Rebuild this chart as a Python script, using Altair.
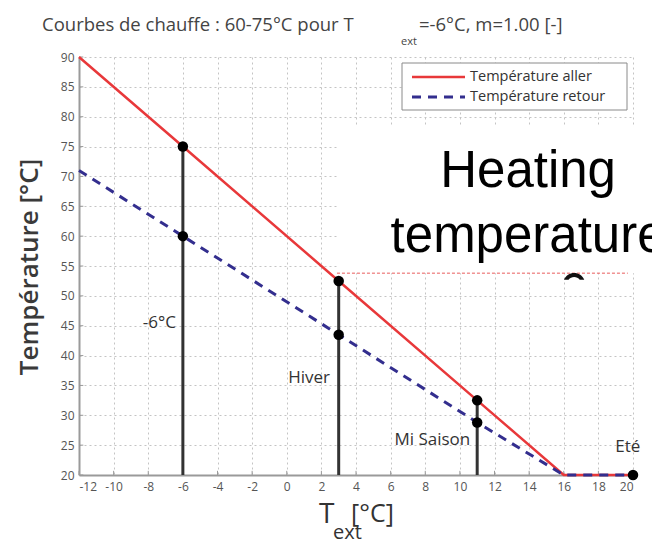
import altair as alt
import pandas as pd

# Heating curve: supply ("aller") and return ("retour") water temperature vs outdoor temperature
t_ext = [-12, -6, 3, 11, 16, 20]
t_aller = [90, 75, 52.5, 32.5, 20, 20]
t_retour = [71, 60, 43.5, 28.8, 20, 20]

# Operating points marked on the curves
season_names = ["-6°C", "Hiver", "Mi Saison", "Eté"]
season_t = [-6, 3, 11, 20]
season_aller = [75, 52.5, 32.5, 20]
season_retour = [60, 43.5, 28.8, 20]
label_x = [-6.4, 2.5, 10.6, 19.7]
label_y = [45.5, 36.2, 25.8, 24.7]
label_align = ["right", "right", "right", "center"]

series_names = ["Température aller", "Température retour"]
x_ticks = list(range(-12, 21, 2))
y_ticks = list(range(20, 91, 5))

# Overlay caption box (data coordinates)
box_x = [2.9, 21.5]
box_y = [53.8, 78.6]
caption_lines = ["Heating", "temperature"]
caption_x = 13.94
caption_y = [68.2, 57.3]

RED = "#e8383a"
NAVY = "#332e8e"
DARK = "#333333"
FONT = "Open Sans"

W, H = 554, 418

curves = pd.DataFrame({"t": t_ext, "aller": t_aller, "retour": t_retour})
seasons = pd.DataFrame({"t": season_t, "aller": season_aller, "retour": season_retour,
                        "name": season_names, "lx": label_x, "ly": label_y,
                        "align": label_align})
pts = pd.concat([
    seasons[["t", "aller"]].rename(columns={"aller": "v"}),
    seasons[["t", "retour"]].rename(columns={"retour": "v"}).iloc[:3],
])
rules = seasons.iloc[:3].assign(lo=20)

xs = alt.Scale(domain=[-12, 20], nice=False, zero=False)
ys = alt.Scale(domain=[20, 90], nice=False, zero=False)

x_axis = alt.Axis(values=x_ticks, title=None, grid=True, gridDash=[2, 3], gridColor="#c4c4c4",
                  domainColor="#9a9a9a", domainWidth=2, ticks=False, labelPadding=6,
                  labelFontSize=12, labelColor="#555555", labelFont=FONT,
                  labelExpr="'' + datum.value")
y_axis = alt.Axis(values=y_ticks, title=None, grid=True, gridDash=[2, 3], gridColor="#c4c4c4",
                  domainColor="#9a9a9a", domainWidth=2, ticks=False, labelPadding=5,
                  labelFontSize=12, labelColor="#555555", labelFont=FONT)


def X(field):
    return alt.X(field, type="quantitative", scale=xs, axis=x_axis)


def Y(field):
    return alt.Y(field, type="quantitative", scale=ys, axis=y_axis)


base = alt.Chart(curves)

# Short inward tick marks along both axes
x_tick_df = pd.DataFrame({"t": x_ticks, "lo": [20] * len(x_ticks), "hi": [20.7] * len(x_ticks)})
y_tick_df = pd.DataFrame({"v": y_ticks, "lo": [-12] * len(y_ticks), "hi": [-11.75] * len(y_ticks)})
x_tick_marks = alt.Chart(x_tick_df).mark_rule(color="#9a9a9a", strokeWidth=1).encode(
    x=X("t"), y=Y("lo"), y2="hi:Q")
y_tick_marks = alt.Chart(y_tick_df).mark_rule(color="#9a9a9a", strokeWidth=1).encode(
    y=Y("v"), x=X("lo"), x2="hi:Q")

aller_line = base.mark_line(color=RED, strokeWidth=2.5).encode(x=X("t"), y=Y("aller"))
retour_line = base.mark_line(color=NAVY, strokeWidth=3, strokeDash=[9, 7]).encode(x=X("t"), y=Y("retour"))

season_rules = alt.Chart(rules).mark_rule(color=DARK, strokeWidth=3).encode(
    x=X("t"), y=Y("lo"), y2="aller:Q",
)

season_points = alt.Chart(pts).mark_circle(color="black", opacity=1, size=110, clip=False).encode(
    x=X("t"), y=Y("v"),
)


def season_label(align):
    return alt.Chart(seasons[seasons["align"] == align]).mark_text(
        align=align, baseline="middle", fontSize=17, font=FONT, color=DARK
    ).encode(x=X("lx"), y=Y("ly"), text="name:N")


# Caption box drawn over the upper right of the plot
box = alt.Chart(pd.DataFrame({"x": [box_x[0]], "x2": [box_x[1]], "y": [box_y[0]], "y2": [box_y[1]]})).mark_rect(
    fill="white", clip=False
).encode(x=X("x"), x2="x2:Q", y=Y("y"), y2="y2:Q")

box_edge = alt.Chart(pd.DataFrame({"x": [box_x[0]], "x2": [19.7], "y": [box_y[0]]})).mark_rule(
    color="#e85c5c", strokeWidth=1, strokeDash=[3, 2], clip=False
).encode(x=X("x"), x2="x2:Q", y=Y("y"))

cap_shape = "M -0.92 -0.4 A 1 1 0 0 1 0.92 -0.4 L 0.51 -0.4 A 0.65 0.65 0 0 0 -0.51 -0.4 Z"
cap = alt.Chart(pd.DataFrame({"x": [16.6], "y": [51.98]})).mark_point(
    shape=cap_shape, filled=True, color="#111111", opacity=1, size=484
).encode(x=X("x"), y=Y("y"))

caption = alt.Chart(pd.DataFrame({"text": caption_lines, "x": [caption_x] * 2, "y": caption_y})).mark_text(
    align="center", baseline="alphabetic", font="Liberation Sans", fontSize=51, color="black"
).encode(x=X("x"), y=Y("y"), text="text:N")

# Legend (pixel layout inside the plot frame)
one = pd.DataFrame({"k": [0]})
legend_box = alt.Chart(one).mark_rect(fill="white", stroke="#8a8a8a", strokeWidth=1).encode(
    x=alt.value(323), x2=alt.value(548), y=alt.value(6), y2=alt.value(53)
)
legend_red = alt.Chart(one).mark_rule(color=RED, strokeWidth=2.5).encode(
    x=alt.value(333), x2=alt.value(386), y=alt.value(20)
)
legend_navy = alt.Chart(one).mark_rule(color=NAVY, strokeWidth=3, strokeDash=[9, 7]).encode(
    x=alt.value(333), x2=alt.value(386), y=alt.value(40)
)
legend_text_1 = alt.Chart(one).mark_text(
    align="left", baseline="middle", fontSize=14.5, font=FONT, color=DARK, text=series_names[0]
).encode(x=alt.value(391), y=alt.value(20))
legend_text_2 = alt.Chart(one).mark_text(
    align="left", baseline="middle", fontSize=14.5, font=FONT, color=DARK, text=series_names[1]
).encode(x=alt.value(391), y=alt.value(40))

# Title with subscript
title_main = alt.Chart(one).mark_text(align="left", baseline="middle", fontSize=18.5, font=FONT,
                                       color="#444444", text="Courbes de chauffe : 60-75°C pour T").encode(
    x=alt.value(-37), y=alt.value(-32))
title_sub = alt.Chart(one).mark_text(align="left", baseline="middle", fontSize=11, font=FONT,
                                      color="#444444", text="ext").encode(
    x=alt.value(322), y=alt.value(-15))
title_end = alt.Chart(one).mark_text(align="left", baseline="middle", fontSize=18.5, font=FONT,
                                      color="#444444", text="=-6°C, m=1.00 [-]").encode(
    x=alt.value(340), y=alt.value(-32))

# Axis titles
y_title = alt.Chart(one).mark_text(align="center", baseline="middle", fontSize=26, font=FONT,
                                    fontWeight=600, color="#3a3a3a", angle=270,
                                    text="Température  [°C]").encode(
    x=alt.value(-49), y=alt.value(210))
x_title_T = alt.Chart(one).mark_text(align="left", baseline="alphabetic", fontSize=28, font=FONT,
                                      color=DARK, text="T").encode(x=alt.value(240), y=alt.value(466))
x_title_sub = alt.Chart(one).mark_text(align="left", baseline="alphabetic", fontSize=20, font=FONT,
                                        color=DARK, text="ext").encode(x=alt.value(254), y=alt.value(482))
x_title_unit = alt.Chart(one).mark_text(align="left", baseline="alphabetic", fontSize=25, font=FONT,
                                         color=DARK, text="[°C]").encode(x=alt.value(272), y=alt.value(465))

chart = alt.layer(
    x_tick_marks, y_tick_marks,
    aller_line, retour_line, season_rules, season_points,
    season_label("right"), season_label("center"),
    legend_box, legend_red, legend_navy, legend_text_1, legend_text_2,
    box, box_edge, cap, caption,
    title_main, title_sub, title_end, y_title, x_title_T, x_title_sub, x_title_unit,
).properties(
    width=W, height=H,
    autosize=alt.AutoSizeParams(type="none"),
    padding={"left": 79, "top": 57, "right": 19, "bottom": 70},
    background="white",
).configure_view(stroke=None)

chart.save("out.html", embed_options={"renderer": "svg", "actions": False})
